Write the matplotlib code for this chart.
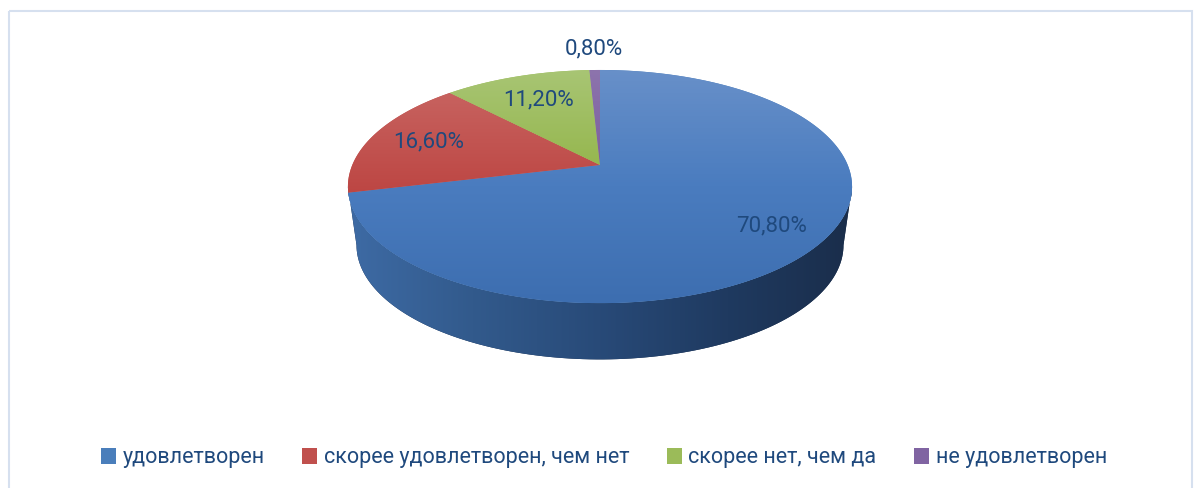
import numpy as np
import matplotlib.pyplot as plt
from matplotlib.patches import Polygon, Rectangle, Patch
from matplotlib.colors import LinearSegmentedColormap

plt.rcParams['font.family'] = ['Roboto', 'DejaVu Sans']

# данные
categories = ['удовлетворен', 'скорее удовлетворен, чем нет', 'скорее нет, чем да', 'не удовлетворен']
values = [70.8, 16.6, 11.2, 0.8]
labels = ['70,80%', '16,60%', '11,20%', '0,80%']

# цвета (верх срезов: светлый -> тёмный сверху вниз)
colors = ['#4a7ebb', '#c0504d', '#9bbb59', '#8064a2']
top_grad = [['#6890c9', '#4a7cbf', '#3d6eb0'],
            ['#c7625f', '#bd4643'],
            ['#a8c574', '#96b74f'],
            ['#8d74ad', '#7b5f9e']]
side_grad = [['#3e6ba5', '#325a8c', '#284a78', '#1f3a60', '#1a2d4a'],
             ['#9a3b38', '#8a3331'],
             ['#7a9a3f', '#6a8735'],
             ['#634c82', '#563f72']]
label_r = [0.8, 0.75, 0.7, 1.28]
text_color = '#1f497d'

# геометрия псевдо-3D (в пикселях)
CX, CY = 600, 165
F, S, P = 247.7, 112.6, 0.185
DEPTH, BOT_SX, BOT_SY = 59, 0.966, 0.98
MIN_SIDE = 6  # градусы: более узкие боковины не рисуются


def rim(theta, r=1.0, bottom=False):
    t = np.radians(theta)
    X, Y = r * np.cos(t), r * np.sin(t)
    w = 1 + P * Y
    u, v = F * X / w, S * Y / w
    if bottom:
        u, v = u * BOT_SX, v * BOT_SY - DEPTH
    return CX + u, CY - v


def side_patch(hi, lo, i):
    th = np.linspace(hi, lo, 120)
    tx, ty = rim(th)
    bx, by = rim(th[::-1], bottom=True)
    poly = Polygon(np.column_stack([np.r_[tx, bx], np.r_[ty, by]]),
                   closed=True, facecolor=side_grad[i][-1], edgecolor='none', zorder=1)
    ax.add_patch(poly)
    cmap = LinearSegmentedColormap.from_list('s%d' % i, side_grad[i])
    im = ax.imshow(np.linspace(0, 1, 256)[None, :], cmap=cmap, aspect='auto',
                   extent=(x0 + 5, x1 - 5, y1, y0), zorder=1.5, interpolation='bilinear')
    im.set_clip_path(poly)


fig = plt.figure(figsize=(11.99, 4.88), dpi=100)
ax = fig.add_axes([0, 0, 1, 1])
ax.axis('off')

fracs = np.array(values) / sum(values)
edges = 90 - 360 * np.concatenate([[0], np.cumsum(fracs)])

# видимая боковая сторона
tang = np.degrees(np.arcsin(P))
side_hi, side_lo = -tang, -180 + tang

x0, x1 = CX - F * 1.05, CX + F * 1.05
y0, y1 = CY - S, CY + S * 1.4 + DEPTH

# основа боковины цветом первого среза, затем остальные срезы поверх
side_patch(side_hi, side_lo, 0)
for i in range(1, len(values)):
    hi = min(edges[i], side_hi)
    lo = max(edges[i + 1], side_lo)
    if hi - lo >= MIN_SIDE:
        side_patch(hi, lo, i)

for i in range(len(values)):
    th = np.linspace(edges[i], edges[i + 1], 200)
    tx, ty = rim(th)
    pts = np.column_stack([np.r_[CX, tx], np.r_[CY, ty]])
    poly = Polygon(pts, closed=True, facecolor=colors[i], edgecolor='none', zorder=2)
    ax.add_patch(poly)
    cmap = LinearSegmentedColormap.from_list('t%d' % i, top_grad[i])
    ymin, ymax = pts[:, 1].min(), pts[:, 1].max()
    im = ax.imshow(np.linspace(0, 1, 256)[:, None], cmap=cmap, aspect='auto',
                   extent=(x0, x1, ymax, ymin), zorder=2.5, interpolation='bilinear')
    im.set_clip_path(poly)

# подписи данных
mids = (edges[:-1] + edges[1:]) / 2
for i, lab in enumerate(labels):
    lx, ly = rim(mids[i], r=label_r[i])
    ax.text(lx, ly, lab, ha='center', va='center', fontsize=16, color=text_color, zorder=5)

# рамка
ax.add_patch(Rectangle((8.5, 10.5), 1183, 490, fill=False, edgecolor='#d6e0ef', lw=1.5, zorder=0))

ax.set_xlim(0, 1199)
ax.set_ylim(488, 0)

# легенда
handles = [Patch(facecolor=c, edgecolor='none') for c in colors]
fig.legend(handles, categories, ncol=4, loc='center', bbox_to_anchor=(604 / 1199, 1 - 458 / 488),
           frameon=False, fontsize=15.5, handlelength=0.7, handleheight=0.7,
           handletextpad=0.3, columnspacing=1.75, labelcolor=text_color)

fig.savefig('out.png', dpi=100)
